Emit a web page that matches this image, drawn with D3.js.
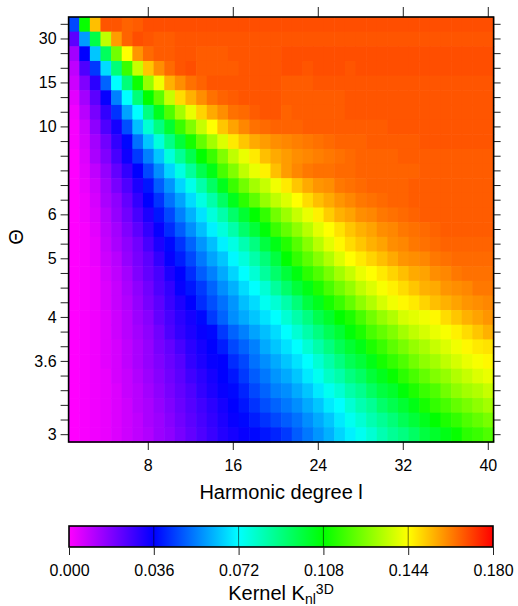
<!DOCTYPE html>
<html><head><meta charset="utf-8">
<script src="https://cdn.jsdelivr.net/npm/d3@7"></script>
<style>
body{margin:0;background:#fff}
svg{display:block}
text{font-family:"Liberation Sans",Arial,Helvetica,sans-serif;fill:#000}
</style>
</head><body>
<svg id="c" width="518" height="606"></svg>
<script>
// Harmonic degree l (columns)
const degrees = [1,2,3,4,5,6,7,8,9,10,11,12,13,14,15,16,17,18,19,20,21,22,23,24,25,26,27,28,29,30,31,32,33,34,35,36,37,38,39,40];
// Theta grid rows (index, top to bottom)
const thetaRows = [2,3,4,5,6,7,8,9,10,11,12,13,14,15,16,17,18,19,20,21,22,23,24,25,26,27,28,29,30];
const thetaTickRows = [3,6,9,15,18,22,25,30];
const thetaTickLabels = ["30","15","10","6","5","4","3.6","3"];
const degreeTicks = [8,16,24,32,40];
const colorTicks = [0,0.036,0.072,0.108,0.144,0.18];
const colorStops = ["#ff00ff","#0000ff","#00ffff","#00ff00","#ffff00","#ff0000"];
// Kernel values x 1000, rows top (Theta large) to bottom (Theta = 3)
const kernelMilli = [
[46,109,153,168,168,166,167,169,169,169, 169,169,169,169,169,169,169,169,169,169, 169,169,169,169,169,169,169,169,169,169, 169,169,169,169,169,169,169,169,169,169],
[23,58,98,135,158,166,169,168,167,167, 168,168,168,168,168,168,168,168,168,168, 168,168,168,168,168,168,168,168,168,168, 168,168,168,168,168,168,168,168,168,168],
[13,36,64,95,124,144,159,165,167,167, 168,168,167,167,167,168,168,168,168,168, 169,169,169,169,169,169,169,169,169,169, 169,169,169,169,169,169,169,169,169,169],
[9,25,44,67,91,116,136,152,160,165, 168,169,167,167,167,167,168,168,168,168, 169,169,168,169,169,169,168,169,169,169, 169,169,169,169,169,169,169,169,169,169],
[7,18,30,50,72,91,110,129,142,155, 160,164,166,168,168,168,168,168,168,168, 167,167,167,168,168,168,168,168,168,168, 168,168,168,168,168,168,168,168,168,168],
[4,13,23,35,54,72,91,108,121,136, 149,155,160,164,166,167,168,168,168,168, 167,167,167,167,167,167,168,168,168,168, 168,168,168,168,168,168,168,168,168,168],
[2,10,19,29,43,59,72,90,104,119, 131,141,150,156,160,164,165,167,168,168, 166,167,167,167,167,167,168,168,168,168, 168,168,168,168,168,168,168,168,168,168],
[1,7,16,25,33,47,63,78,90,101, 116,126,136,144,152,157,161,164,165,166, 166,166,167,167,167,167,167,167,167,167, 168,168,168,168,168,168,168,168,168,168],
[1,6,13,20,29,37,52,64,77,89, 100,111,122,131,139,147,152,156,158,160, 161,162,163,164,165,166,166,166,167,167, 167,167,167,168,168,168,168,168,168,168],
[0,5,12,18,26,34,44,54,64,77, 87,97,108,116,126,135,141,147,153,156, 158,160,161,162,163,164,165,166,166,166, 166,167,167,167,167,167,167,167,167,167],
[0,4,9,15,22,29,36,46,56,66, 76,86,97,105,118,126,135,141,146,153, 158,161,163,164,164,165,165,166,166,166, 166,166,166,167,167,167,167,167,167,167],
[0,3,7,13,19,25,32,39,49,57, 66,75,84,94,104,116,124,131,136,142, 147,152,156,159,160,163,164,165,166,166, 166,166,167,167,167,167,167,167,167,167],
[0,2,6,12,16,22,29,36,43,52, 59,67,76,84,94,104,114,121,129,135, 139,144,149,153,156,159,161,163,164,165, 166,166,167,167,167,167,167,167,167,167],
[0,2,5,10,15,20,26,32,39,46, 54,61,68,77,84,93,101,108,115,124, 130,136,141,146,151,155,157,160,161,163, 164,165,166,167,167,167,167,167,167,167],
[0,1,4,9,13,18,23,29,35,42, 49,56,63,70,77,84,93,100,107,116, 122,128,134,140,144,148,152,155,157,160, 161,163,164,165,166,167,167,167,167,167],
[0,1,3,8,12,16,20,26,32,37, 43,50,57,63,70,76,83,90,99,105, 113,120,127,134,140,145,149,152,155,157, 160,161,163,164,165,166,166,166,166,166],
[0,1,3,7,10,15,19,23,29,35, 40,46,53,59,64,71,77,84,91,99, 108,115,121,127,133,139,144,147,150,153, 156,159,160,161,163,164,165,165,165,165],
[0,1,2,6,9,13,18,22,26,32, 36,42,49,54,60,66,72,78,86,93, 100,106,114,119,125,131,136,141,144,147, 150,153,156,157,160,161,163,164,164,164],
[0,1,2,5,8,12,16,20,25,29, 35,39,44,50,56,61,67,72,78,86, 93,100,105,112,118,124,129,135,139,143, 146,149,152,155,156,159,160,161,163,163],
[0,1,2,5,8,11,15,19,23,28, 32,36,42,47,52,57,63,67,74,78, 84,91,99,104,111,116,122,128,133,138, 142,145,147,150,153,155,157,159,160,161],
[0,1,2,4,7,10,14,17,22,26, 30,33,37,44,50,56,60,64,68,72, 78,84,90,97,102,108,112,118,124,129, 133,138,140,142,145,149,152,155,157,159],
[0,1,2,4,7,10,13,16,20,25, 29,32,35,37,44,50,54,59,63,67, 72,78,84,90,96,101,107,112,118,122, 126,131,135,138,141,143,146,149,152,155],
[0,1,2,4,6,9,12,15,19,22, 26,30,33,36,40,46,50,54,60,64, 68,72,78,84,90,96,101,105,112,116, 121,125,129,132,136,139,142,145,147,148],
[0,1,2,4,6,9,12,15,18,21, 24,29,32,35,36,42,46,52,56,60, 64,68,72,78,84,90,96,100,105,111, 115,119,124,128,131,135,138,141,143,145],
[0,1,2,3,6,8,11,14,17,20, 23,27,30,33,36,39,44,49,53,57, 60,64,69,74,80,84,90,94,100,104, 109,114,118,122,126,129,133,136,139,141],
[0,1,2,3,5,8,10,13,16,19, 22,25,29,32,35,37,41,46,50,54, 56,60,64,69,74,78,84,88,94,99, 102,107,112,116,119,124,128,131,133,136],
[0,1,2,3,5,7,10,12,15,18, 21,24,27,30,33,36,39,43,47,50, 53,56,60,64,69,72,78,83,87,93, 97,101,105,111,115,118,122,125,128,131],
[0,1,2,3,5,7,9,12,14,17, 20,23,26,29,32,35,37,40,43,46, 49,52,56,60,64,69,74,78,83,87, 91,96,100,104,108,112,115,119,122,125],
[0,1,2,3,5,7,9,11,14,16, 19,22,25,28,31,33,35,37,39,41, 44,49,53,57,61,66,70,74,78,83, 87,90,94,99,102,105,109,114,116,119]
];

const svg = d3.select("#c");
const P = {left:68.6, right:493.6, top:17, bottom:442};
const x = d3.scaleBand().domain(degrees).range([P.left, P.right]);
const y = d3.scaleBand().domain(thetaRows).range([P.top, P.bottom]);
const color = d3.scaleLinear().domain(colorTicks).range(colorStops).clamp(true);

const cells = [];
kernelMilli.forEach((row, i) => row.forEach((v, j) => {
  if (j < degrees.length) cells.push({u: thetaRows[i], l: degrees[j], v: v / 1000});
}));

svg.append("g").selectAll("rect").data(cells).join("rect")
  .attr("x", d => x(d.l)).attr("y", d => y(d.u))
  .attr("width", x.bandwidth() + 0.6).attr("height", y.bandwidth() + 0.6)
  .attr("fill", d => color(d.v));

const labelMap = new Map(thetaTickRows.map((r, i) => [r, thetaTickLabels[i]]));
function styleAxis(g, fs) {
  g.select(".domain").remove();
  g.selectAll(".tick line").attr("stroke", "#222").attr("stroke-width", 1);
  g.selectAll(".tick text").attr("font-size", fs).attr("fill", "#000")
    .attr("font-family", '"Liberation Sans",Arial,Helvetica,sans-serif');
}

svg.append("g").attr("transform", `translate(0,${P.bottom})`)
  .call(d3.axisBottom(x).tickValues(degreeTicks).tickSize(8).tickPadding(10))
  .call(g => styleAxis(g, 16));
svg.append("g").attr("transform", `translate(0,${P.top})`)
  .call(d3.axisTop(x).tickValues(degreeTicks).tickSize(10).tickFormat(""))
  .call(g => styleAxis(g, 16));
svg.append("g").attr("transform", `translate(${P.left},0)`)
  .call(d3.axisLeft(y).tickValues(thetaRows).tickSize(8).tickPadding(4).tickFormat(d => labelMap.get(d) || ""))
  .call(g => styleAxis(g, 16));
svg.append("g").attr("transform", `translate(${P.right},0)`)
  .call(d3.axisRight(y).tickValues(thetaRows).tickSize(7).tickFormat(""))
  .call(g => styleAxis(g, 16));

svg.append("rect").attr("x", P.left).attr("y", P.top)
  .attr("width", P.right - P.left).attr("height", P.bottom - P.top)
  .attr("fill", "none").attr("stroke", "#000").attr("stroke-width", 1.6);

svg.append("text").attr("x", (P.left + P.right) / 2).attr("y", 499)
  .attr("text-anchor", "middle").attr("font-size", 20).text("Harmonic degree l");
svg.append("text").attr("transform", "translate(23,237) rotate(-90)")
  .attr("text-anchor", "middle").attr("font-size", 20).text("Θ");

// Colorbar
const CB = {left:69, right:493, top:526, bottom:547};
const cx = d3.scaleLinear().domain([colorTicks[0], colorTicks[colorTicks.length - 1]]).range([CB.left, CB.right]);
const grad = svg.append("defs").append("linearGradient").attr("id", "cbg")
  .attr("x1", "0%").attr("x2", "100%").attr("y1", "0%").attr("y2", "0%");
colorTicks.forEach((t, i) => {
  grad.append("stop").attr("offset", (t - colorTicks[0]) / (colorTicks[colorTicks.length - 1] - colorTicks[0]))
    .attr("stop-color", colorStops[i]);
});
svg.append("rect").attr("x", CB.left).attr("y", CB.top)
  .attr("width", CB.right - CB.left).attr("height", CB.bottom - CB.top)
  .attr("fill", "url(#cbg)");
svg.append("g").selectAll("line").data(colorTicks.slice(1, -1)).join("line")
  .attr("x1", d => cx(d)).attr("x2", d => cx(d)).attr("y1", CB.top).attr("y2", CB.bottom)
  .attr("stroke", "#000").attr("stroke-opacity", 0.55).attr("stroke-width", 1);
svg.append("rect").attr("x", CB.left).attr("y", CB.top)
  .attr("width", CB.right - CB.left).attr("height", CB.bottom - CB.top)
  .attr("fill", "none").attr("stroke", "#000").attr("stroke-width", 1.6);
svg.append("g").attr("transform", `translate(0,${CB.bottom})`)
  .call(d3.axisBottom(cx).tickValues(colorTicks).tickSize(8).tickPadding(10).tickFormat(d3.format(".3f")))
  .call(g => styleAxis(g, 16));

const kt = svg.append("text").attr("x", (CB.left + CB.right) / 2).attr("y", 600)
  .attr("text-anchor", "middle").attr("font-size", 20);
kt.append("tspan").text("Kernel K");
kt.append("tspan").attr("font-size", 14).attr("dy", 4).text("nl");
kt.append("tspan").attr("font-size", 14).attr("dy", -10).text("3D");
</script>
</body></html>
